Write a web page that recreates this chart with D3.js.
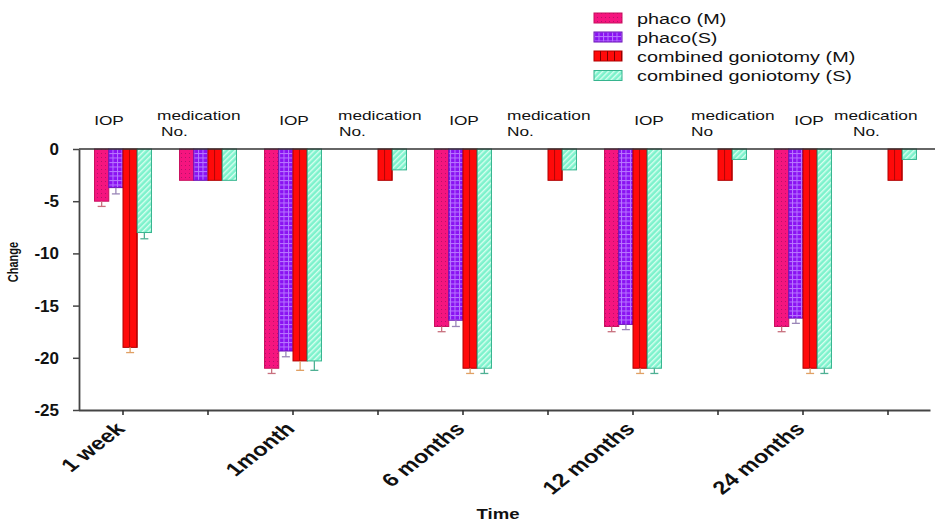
<!DOCTYPE html>
<html>
<head>
<meta charset="utf-8">
<script src="https://cdn.jsdelivr.net/npm/d3@7"></script>
<style>
  html, body { margin: 0; padding: 0; background: #fff; }
  svg { display: block; font-family: "Liberation Sans", Arial, sans-serif; }
</style>
</head>
<body>
<svg id="chart" width="935" height="525"></svg>
<script>
// ---------- data ----------
const times = ["1 week", "1month", "6 months", "12 months", "24 months"];
const measures = ["IOP", "medication"];
const series = ["phaco (M)", "phaco(S)", "combined goniotomy (M)", "combined goniotomy (S)"];
const yTicks = [0, -5, -10, -15, -20, -25];

// values per time point: IOP change
const phacoM_IOP = [-5, -21, -17, -17, -17];
const phacoS_IOP = [-3.7, -19.35, -16.4, -16.8, -16.2];
const combM_IOP  = [-19, -20.3, -21, -21, -21];
const combS_IOP  = [-8, -20.3, -21, -21, -21];
// error bar ends (IOP)
const phacoM_IOP_err = [-5.5, -21.5, -17.5, -17.5, -17.5];
const phacoS_IOP_err = [-4.3, -19.9, -17, -17.3, -16.7];
const combM_IOP_err  = [-19.5, -21.2, -21.5, -21.5, -21.5];
const combS_IOP_err  = [-8.6, -21.2, -21.5, -21.5, -21.5];
// medication number change
const phacoM_Med = [-3, 0, 0, 0, 0];
const phacoS_Med = [-3, 0, 0, 0, 0];
const combM_Med  = [-3, -3, -3, -3, -3];
const combS_Med  = [-3, -2, -2, -1, -1];

const iopLabel = "IOP";
const medLabel1 = "medication";
const medLabel2 = ["No.", "No.", "No.", "No", "No."];

// ---------- layout ----------
const svg = d3.select("#chart");
const SX = 1.28; // horizontal text stretch seen in the reference
const W = 935, H = 525;
const yTop = 149, yBot = 410, xLeft = 79;

const cats = [];
times.forEach((t, i) => measures.forEach(m => cats.push(t + "|" + m)));

const x = d3.scaleBand().domain(cats).range([80.5, 930.5]).paddingInner(0.33).paddingOuter(0.165);
const xs = d3.scaleBand().domain(series).range([0, x.bandwidth()]).padding(0);
const y = d3.scaleLinear().domain([-25, 0]).range([yBot, yTop]);

// rows of bars
const rows = [];
times.forEach((t, i) => {
  const iop = [phacoM_IOP[i], phacoS_IOP[i], combM_IOP[i], combS_IOP[i]];
  const iopE = [phacoM_IOP_err[i], phacoS_IOP_err[i], combM_IOP_err[i], combS_IOP_err[i]];
  const med = [phacoM_Med[i], phacoS_Med[i], combM_Med[i], combS_Med[i]];
  series.forEach((s, k) => {
    rows.push({cat: t + "|IOP", s, k, v: iop[k], e: iopE[k]});
    rows.push({cat: t + "|medication", s, k, v: med[k], e: null});
  });
});

// ---------- patterns ----------
const defs = svg.append("defs");
const fills = ["#f5157f", "#8a12f2", "#ff0a0a", "#7df2cc"];
const strokes = ["#c8105e", "#6a10b8", "#b00000", "#36b48e"];
const errColors = ["#c8707e", "#9a86b8", "#e0a064", "#4fb094"];

// pink with dots
let p = defs.append("pattern").attr("id", "pat0").attr("patternUnits", "userSpaceOnUse").attr("width", 4).attr("height", 4);
p.append("rect").attr("width", 4).attr("height", 4).attr("fill", fills[0]);
p.append("rect").attr("x", 1).attr("y", 1).attr("width", 1).attr("height", 1).attr("fill", "#b8106a");
// purple grid
p = defs.append("pattern").attr("id", "pat1").attr("patternUnits", "userSpaceOnUse").attr("width", 4.5).attr("height", 4.5);
p.append("rect").attr("width", 4.5).attr("height", 4.5).attr("fill", fills[1]);
p.append("rect").attr("x", 0).attr("y", 0).attr("width", 4.5).attr("height", 1).attr("fill", "#b877ff");
p.append("rect").attr("x", 0).attr("y", 0).attr("width", 1).attr("height", 4.5).attr("fill", "#b877ff");
// red with vertical dark lines (relative to each bar)
p = defs.append("pattern").attr("id", "pat2").attr("patternUnits", "objectBoundingBox").attr("width", 0.5).attr("height", 1);
p.append("rect").attr("width", 40).attr("height", 2000).attr("fill", fills[2]);
p.append("rect").attr("x", x.bandwidth() / 8 - 0.6).attr("width", 1.3).attr("height", 2000).attr("fill", "#7a0000");
// green with white diagonal stripes
p = defs.append("pattern").attr("id", "pat3").attr("patternUnits", "userSpaceOnUse").attr("width", 4).attr("height", 4).attr("patternTransform", "rotate(45)");
p.append("rect").attr("width", 4).attr("height", 4).attr("fill", fills[3]);
p.append("rect").attr("x", 0).attr("width", 1.4).attr("height", 4).attr("fill", "#d8fff0");

// legend pattern for red (user space)
p = defs.append("pattern").attr("id", "pat2L").attr("patternUnits", "userSpaceOnUse").attr("width", 7).attr("height", 20).attr("x", 594);
p.append("rect").attr("width", 7).attr("height", 20).attr("fill", fills[2]);
p.append("rect").attr("x", 6).attr("width", 1.3).attr("height", 20).attr("fill", "#7a0000");

function stretchText(sel, tx, ty, extra) {
  sel.attr("transform", `translate(${tx},${ty}) scale(${SX},1)` + (extra || ""));
}

// ---------- bars ----------
const g = svg.append("g");
const bars = rows.filter(d => d.v < 0);
g.selectAll("rect.bar").data(bars).join("rect")
  .attr("class", "bar")
  .attr("x", d => x(d.cat) + xs(d.s))
  .attr("y", y(0))
  .attr("width", xs.bandwidth())
  .attr("height", d => y(d.v) - y(0))
  .attr("fill", d => `url(#pat${d.k})`)
  .attr("stroke", d => strokes[d.k])
  .attr("stroke-width", 1);

// error bars
const errs = rows.filter(d => d.e != null);
const eg = g.selectAll("g.err").data(errs).join("g").attr("class", "err")
  .attr("stroke", d => errColors[d.k]).attr("stroke-width", 1.3);
eg.append("line")
  .attr("x1", d => x(d.cat) + xs(d.s) + xs.bandwidth() / 2)
  .attr("x2", d => x(d.cat) + xs(d.s) + xs.bandwidth() / 2)
  .attr("y1", d => y(d.v))
  .attr("y2", d => y(d.e));
eg.append("line")
  .attr("x1", d => x(d.cat) + xs(d.s) + xs.bandwidth() / 2 - 4)
  .attr("x2", d => x(d.cat) + xs(d.s) + xs.bandwidth() / 2 + 4)
  .attr("y1", d => y(d.e))
  .attr("y2", d => y(d.e));

// zero line
svg.append("line").attr("x1", xLeft).attr("x2", W).attr("y1", y(0)).attr("y2", y(0))
  .attr("stroke", "#333").attr("stroke-width", 1.6);

// ---------- axes ----------
const yAxis = svg.append("g").attr("transform", `translate(${xLeft},0)`)
  .call(d3.axisLeft(y).tickValues(yTicks).tickSize(6).tickSizeOuter(0).tickPadding(14).tickFormat(d3.format("d")));
yAxis.select(".domain").attr("stroke", "#444").attr("stroke-width", 1.8);
yAxis.selectAll(".tick line").attr("stroke", "#444").attr("stroke-width", 1.5);
yAxis.selectAll(".tick text").attr("font-size", 17).attr("font-weight", "bold").attr("fill", "#111")
  .attr("font-family", "Liberation Sans, Arial, sans-serif")
  .text(d => d === 0 ? "0" : "-" + Math.abs(d));

const xAxis = svg.append("g").attr("transform", `translate(0,${yBot})`)
  .call(d3.axisBottom(x).tickSize(5).tickSizeOuter(0).tickFormat(d => d.endsWith("|IOP") ? d.split("|")[0] : ""));
xAxis.select(".domain").attr("stroke", "#444").attr("stroke-width", 1.8)
  .attr("d", `M${xLeft},0.5H930.5`);
xAxis.selectAll(".tick line").attr("stroke", "#333").attr("stroke-width", 1.6);
xAxis.selectAll(".tick text")
  .attr("font-size", 18.5).attr("font-weight", "bold").attr("fill", "#111")
  .attr("font-family", "Liberation Sans, Arial, sans-serif")
  .attr("text-anchor", "end").attr("dy", null).attr("y", 0).attr("x", 0)
  .attr("transform", `translate(3,${20}) scale(${SX},1) rotate(-45)`);

// axis titles
svg.append("text").text("Time").attr("font-size", 14.5).attr("font-weight", "bold").attr("fill", "#111")
  .attr("text-anchor", "middle").call(stretchText, 498, 519);
svg.append("text").text("Change").attr("font-size", 11).attr("font-weight", "bold").attr("fill", "#111")
  .attr("text-anchor", "middle").attr("transform", `translate(18,262) rotate(-90) scale(1,${SX})`);

// group annotations
const iopDx = [-14, 1, 1, 16, 6];
const medDx = [-51, -40, -41, -27, -54];
const noDx = [-47, -39, -41, -27, -35];
const ann = svg.append("g").attr("fill", "#111").attr("font-size", 13.5);
times.forEach((t, i) => {
  const cI = x(t + "|IOP") + x.bandwidth() / 2;
  const cM = x(t + "|medication") + x.bandwidth() / 2;
  ann.append("text").text(iopLabel).attr("text-anchor", "middle").call(stretchText, cI + iopDx[i], 125);
  ann.append("text").text(medLabel1).call(stretchText, cM + medDx[i], 120);
  ann.append("text").text(medLabel2[i]).call(stretchText, cM + noDx[i], 136);
});

// ---------- legend ----------
const legY = [18, 37, 56, 75.5];
const leg = svg.append("g");
series.forEach((s, k) => {
  leg.append("rect").attr("x", 594).attr("y", legY[k] - 5).attr("width", 28).attr("height", 10)
    .attr("fill", k === 2 ? "url(#pat2L)" : `url(#pat${k})`).attr("stroke", strokes[k]).attr("stroke-width", 1);
  leg.append("text").text(s).attr("font-size", 15.5).attr("fill", "#111")
    .call(stretchText, 637, legY[k] + 5.5);
});
</script>
</body>
</html>
